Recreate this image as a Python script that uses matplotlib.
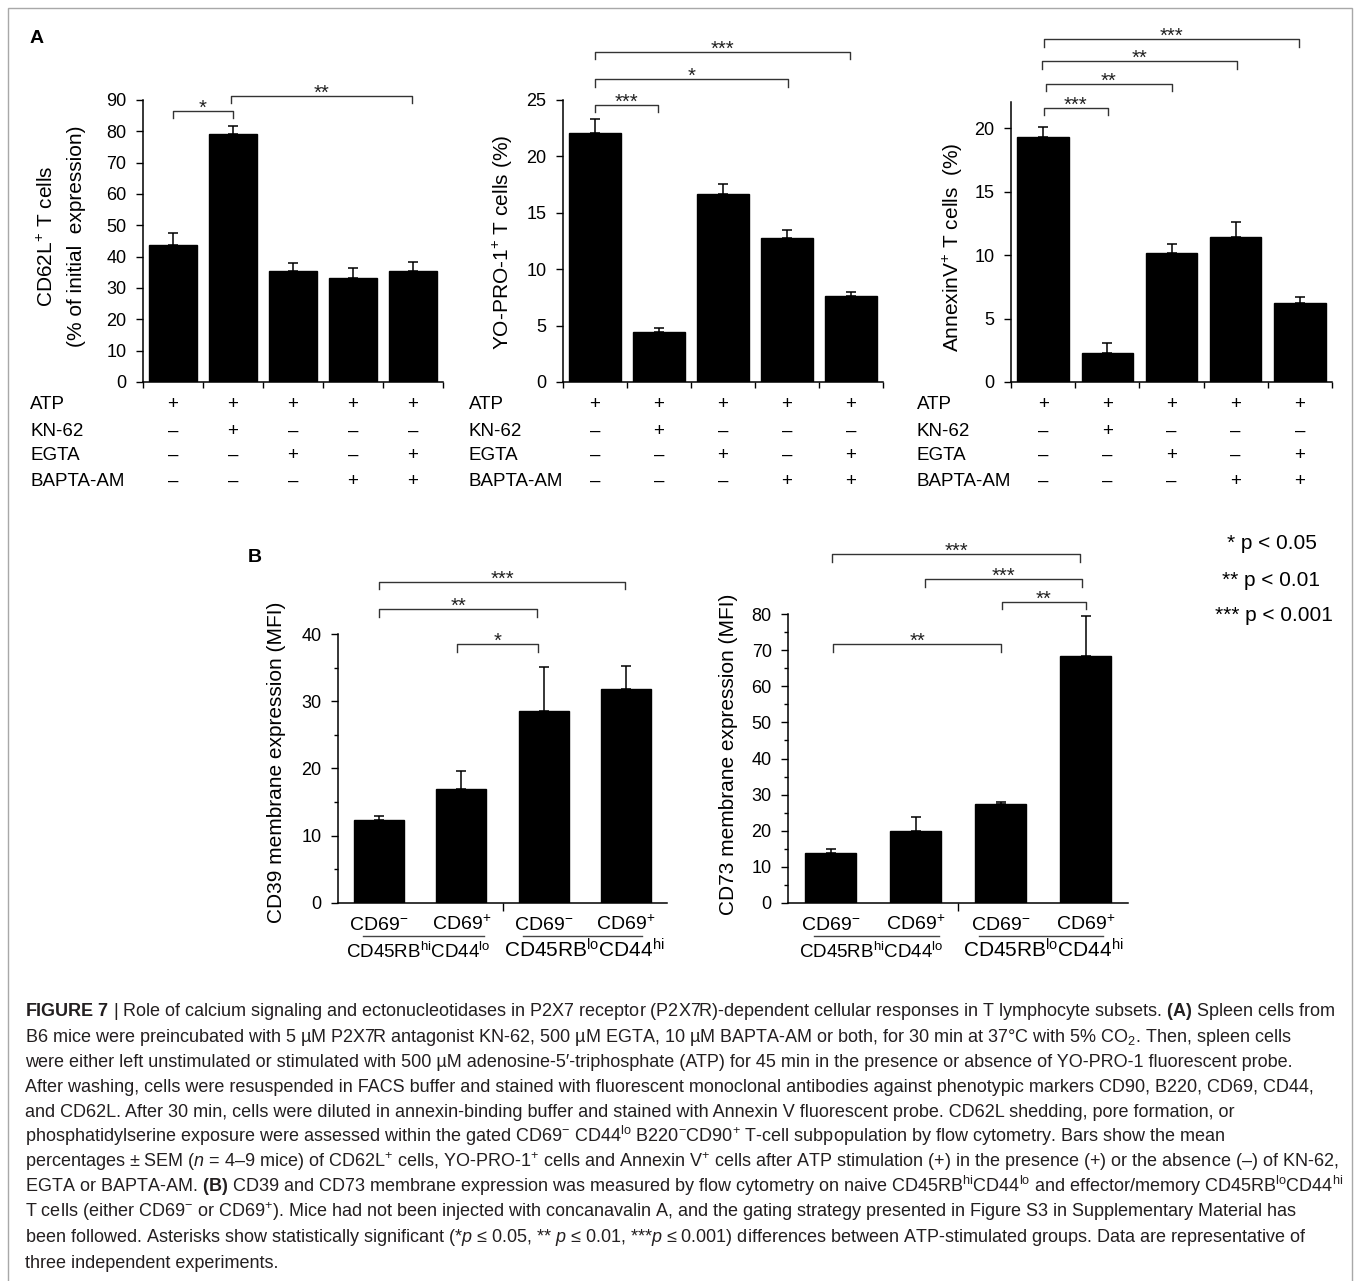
import numpy as np
import matplotlib
matplotlib.use("Agg")
import matplotlib.pyplot as plt
from matplotlib.patches import Rectangle
from matplotlib.transforms import blended_transform_factory

plt.rcParams['font.family'] = ['Liberation Sans', 'DejaVu Sans']
plt.rcParams['mathtext.fontset'] = 'custom'
plt.rcParams['mathtext.rm'] = 'Liberation Sans'
plt.rcParams['mathtext.it'] = 'Liberation Sans:italic'
plt.rcParams['mathtext.bf'] = 'Liberation Sans:bold'

# ---- data ----
treatments = ['ATP', 'KN-62', 'EGTA', 'BAPTA-AM']
treatment_signs = [
    ['+', '+', '+', '+', '+'],
    ['–', '+', '–', '–', '–'],
    ['–', '–', '+', '–', '+'],
    ['–', '–', '–', '+', '+'],
]

cd62l_mean = [43.7, 79.0, 35.5, 33.3, 35.5]
cd62l_sem = [3.8, 2.8, 2.4, 3.2, 2.7]
yopro_mean = [22.1, 4.4, 16.7, 12.8, 7.6]
yopro_sem = [1.2, 0.35, 0.85, 0.7, 0.35]
annexin_mean = [19.3, 2.3, 10.2, 11.4, 6.2]
annexin_sem = [0.8, 0.75, 0.7, 1.2, 0.5]

subsets = ['CD69$^{-}$', 'CD69$^{+}$', 'CD69$^{-}$', 'CD69$^{+}$']
groups = [r'CD45RB$^{\mathrm{hi}}$CD44$^{\mathrm{lo}}$',
          r'CD45RB$^{\mathrm{lo}}$CD44$^{\mathrm{hi}}$']
cd39_mean = [12.3, 17.0, 28.6, 31.8]
cd39_sem = [0.6, 2.6, 6.5, 3.4]
cd73_mean = [13.7, 20.0, 27.3, 68.5]
cd73_sem = [1.1, 3.7, 0.6, 10.9]

# significance brackets: (from bar, to bar, height, stars)
cd62l_sig = [(0, 1, 86.5, '*'), (0.97, 3.98, 91.3, '**')]
yopro_sig = [(0, 0.98, 24.56, '***'), (0, 3.02, 26.86, '*'), (0, 3.98, 29.26, '***')]
annexin_sig = [(0.01, 1.01, 21.63, '***'), (0.04, 2.0, 23.5, '**'),
               (-0.02, 3.02, 25.3, '**'), (0.01, 3.99, 27.03, '***')]
cd39_sig = [(0.95, 1.93, 38.45, '*'), (0, 1.92, 43.7, '**'), (0, 2.99, 47.8, '***')]
cd73_sig = [(0.03, 2.01, 71.7, '**'), (2.02, 3.0, 83.5, '**'),
            (1.11, 2.96, 89.7, '***'), (0.02, 2.94, 96.7, '***')]

legend_lines = ['* p < 0.05', '** p < 0.01', '*** p < 0.001']

caption_lines = [
    r"$\bf{FIGURE\ 7}$ | Role of calcium signaling and ectonucleotidases in P2X7 receptor (P2X7R)-dependent cellular responses in T lymphocyte subsets. $\bf{(A)}$ Spleen cells from",
    r"B6 mice were preincubated with 5 µM P2X7R antagonist KN-62, 500 µM EGTA, 10 µM BAPTA-AM or both, for 30 min at 37°C with 5% CO$_2$. Then, spleen cells",
    r"were either left unstimulated or stimulated with 500 µM adenosine-5′-triphosphate (ATP) for 45 min in the presence or absence of YO-PRO-1 fluorescent probe.",
    r"After washing, cells were resuspended in FACS buffer and stained with fluorescent monoclonal antibodies against phenotypic markers CD90, B220, CD69, CD44,",
    r"and CD62L. After 30 min, cells were diluted in annexin-binding buffer and stained with Annexin V fluorescent probe. CD62L shedding, pore formation, or",
    r"phosphatidylserine exposure were assessed within the gated CD69$^{-}$ CD44$^{\mathrm{lo}}$ B220$^{-}$CD90$^{+}$ T-cell subpopulation by flow cytometry. Bars show the mean",
    r"percentages ± SEM ($\mathit{n}$ = 4–9 mice) of CD62L$^{+}$ cells, YO-PRO-1$^{+}$ cells and Annexin V$^{+}$ cells after ATP stimulation (+) in the presence (+) or the absence (–) of KN-62,",
    r"EGTA or BAPTA-AM. $\bf{(B)}$ CD39 and CD73 membrane expression was measured by flow cytometry on naive CD45RB$^{\mathrm{hi}}$CD44$^{\mathrm{lo}}$ and effector/memory CD45RB$^{\mathrm{lo}}$CD44$^{\mathrm{hi}}$",
    r"T cells (either CD69$^{-}$ or CD69$^{+}$). Mice had not been injected with concanavalin A, and the gating strategy presented in Figure S3 in Supplementary Material has",
    r"been followed. Asterisks show statistically significant (*$\mathit{p}$ ≤ 0.05, ** $\mathit{p}$ ≤ 0.01, ***$\mathit{p}$ ≤ 0.001) differences between ATP-stimulated groups. Data are representative of",
    r"three independent experiments.",
]

# ---- figure ----
W, H = 1356, 1281
fig = plt.figure(figsize=(W / 100, H / 100), dpi=100)


def fig_y(py):
    return 1 - py / H


def px_axes(x0, y0, x1, y1):
    return fig.add_axes([x0 / W, 1 - y1 / H, (x1 - x0) / W, (y1 - y0) / H])


def bar_panel(ax, means, sems, width, ymax, yticks, minor=None):
    x = np.arange(len(means))
    ax.bar(x, means, width=width, color='black', edgecolor='black', zorder=2)
    ax.errorbar(x, means, yerr=[np.zeros(len(sems)), sems], fmt='none',
                ecolor='black', elinewidth=1.1, capsize=3.5, capthick=1.1, zorder=3)
    ax.set_xlim(-0.5, len(means) - 0.5)
    ax.set_ylim(0, ymax)
    ax.set_yticks(yticks)
    if minor is not None:
        ax.set_yticks(minor, minor=True)
    for s in ['top', 'right']:
        ax.spines[s].set_visible(False)
    for s in ['left', 'bottom']:
        ax.spines[s].set_linewidth(1.1)
    ax.tick_params(axis='y', direction='out', length=5, width=1.0, labelsize=13, pad=7)
    ax.tick_params(axis='y', which='minor', direction='out', length=3, width=1.0)
    ax.tick_params(axis='x', direction='out', length=4.5, width=1.0, labelbottom=False)


def brackets(ax, sig, leg_px=7.5):
    y0, y1 = ax.get_ylim()
    h_px = ax.get_position().height * H
    leg = leg_px * (y1 - y0) / h_px
    for x0, x1, top, label in sig:
        ax.plot([x0, x0, x1, x1], [top - leg, top, top, top - leg],
                color='#333333', lw=1.0, clip_on=False)
        ax.annotate(label, xy=((x0 + x1) / 2, top), xytext=(0, -2),
                    textcoords='offset points', ha='center', va='baseline',
                    fontsize=14.5, color='#222222', annotation_clip=False)


def treatment_rows(ax, label_x, row_base):
    trans = blended_transform_factory(ax.transData, fig.transFigure)
    for name, signs, py in zip(treatments, treatment_signs, row_base):
        fig.text(label_x / W, fig_y(py), name, ha='left', va='baseline', fontsize=13.5)
        for i, s in enumerate(signs):
            ax.text(i, fig_y(py), s, transform=trans, ha='center', va='baseline',
                    fontsize=13.5)


rows_y = [409, 436, 460, 486]

# Panel A
ax1 = px_axes(143, 100, 443, 382)
bar_panel(ax1, cd62l_mean, cd62l_sem, 0.8, 90, np.arange(0, 91, 10))
ax1.set_xticks(np.arange(-0.5, 5, 1))
brackets(ax1, cd62l_sig)
treatment_rows(ax1, 30, rows_y)
fig.text(47 / W, fig_y(236), 'CD62L$^{+}$ T cells', rotation=90, ha='center', va='center', fontsize=15)
fig.text(76 / W, fig_y(236), '(% of initial  expression)', rotation=90, ha='center', va='center', fontsize=15)

ax2 = px_axes(563, 100, 883, 382)
bar_panel(ax2, yopro_mean, yopro_sem, 0.8, 25, np.arange(0, 26, 5))
ax2.set_xticks(np.arange(-0.5, 5, 1))
brackets(ax2, yopro_sig)
treatment_rows(ax2, 469, rows_y)
fig.text(503 / W, fig_y(242), 'YO-PRO-1$^{+}$ T cells (%)', rotation=90, ha='center', va='center', fontsize=15)

ax3 = px_axes(1011, 101.7, 1332, 382)
bar_panel(ax3, annexin_mean, annexin_sem, 0.8, 22.1, np.arange(0, 21, 5))
ax3.set_xticks(np.arange(-0.5, 5, 1))
brackets(ax3, annexin_sig)
treatment_rows(ax3, 917, rows_y)
fig.text(953 / W, fig_y(247), 'AnnexinV$^{+}$ T cells  (%)', rotation=90, ha='center', va='center', fontsize=15)

fig.text(30 / W, fig_y(43.3), 'A', fontweight='bold', fontsize=14, ha='left', va='baseline')
fig.text(248 / W, fig_y(561.7), 'B', fontweight='bold', fontsize=14, ha='left', va='baseline')

# Panel B


def subset_labels(ax):
    trans = blended_transform_factory(ax.transData, fig.transFigure)
    for i, lab in enumerate(subsets):
        ax.text(i, fig_y(930), lab, transform=trans, ha='center', va='baseline', fontsize=14)
    for (a, b) in [(-0.2, 1.27), (1.75, 3.2)]:
        ax.plot([a, b], [fig_y(936)] * 2, transform=trans, color='#444444', lw=1.0, clip_on=False)
    ax.text(0.48, fig_y(957.5), groups[0], transform=trans, ha='center', va='baseline', fontsize=13.5)
    ax.text(2.5, fig_y(957.5), groups[1], transform=trans, ha='center', va='baseline', fontsize=15)
    ax.set_xticks([1.5])
    ax.tick_params(axis='x', length=6)


ax4 = px_axes(338, 634, 667, 902.7)
bar_panel(ax4, cd39_mean, cd39_sem, 0.61, 40, np.arange(0, 41, 10), np.arange(5, 40, 10))
brackets(ax4, cd39_sig)
subset_labels(ax4)
fig.text(277 / W, fig_y(762), 'CD39 membrane expression (MFI)', rotation=90, ha='center', va='center', fontsize=15)

ax5 = px_axes(788.3, 614.3, 1128, 902.7)
bar_panel(ax5, cd73_mean, cd73_sem, 0.6, 80, np.arange(0, 81, 10), np.arange(5, 80, 10))
brackets(ax5, cd73_sig)
subset_labels(ax5)
fig.text(728 / W, fig_y(754), 'CD73 membrane expression (MFI)', rotation=90, ha='center', va='center', fontsize=15)

# significance key
for txt, x0, yb in zip(legend_lines, [1227, 1222, 1215], [549.3, 586, 621]):
    fig.text(x0 / W, fig_y(yb), txt, ha='left', va='baseline', fontsize=15)

# frame
fig.add_artist(Rectangle((7.5 / W, -0.02), (1352 - 7.5) / W, 1.02 - 8.5 / H,
                         transform=fig.transFigure, fill=False, edgecolor='#a8a8a8', lw=1.0))

# caption, sized so the first line fills the measured width
renderer = fig.canvas.get_renderer()
probe = fig.text(25 / W, fig_y(1016.5), caption_lines[0], fontsize=12)
cap_size = 12 * 1311 / probe.get_window_extent(renderer).width
probe.remove()
for i, line in enumerate(caption_lines):
    fig.text(25 / W, fig_y(1016.5 + 25.1 * i), line, ha='left', va='baseline',
             fontsize=cap_size, color='#231f20')

fig.savefig('out.png', dpi=100)
